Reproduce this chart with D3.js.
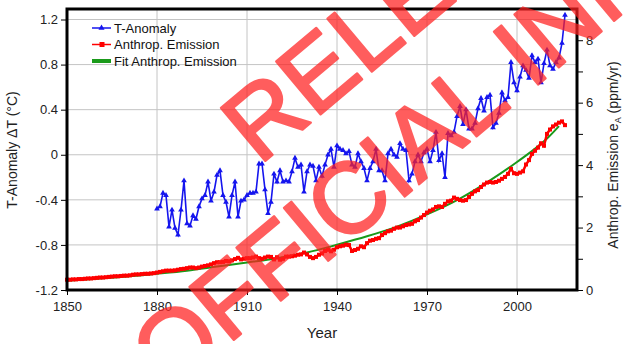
<!DOCTYPE html>
<html>
<head>
<meta charset="utf-8">
<script src="https://cdn.jsdelivr.net/npm/d3@7"></script>
<style>
  body { margin: 0; background: #fff; }
  text { font-family: "Liberation Sans", Arial, sans-serif; }
</style>
</head>
<body>
<div id="chart"></div>
<script>
// temperature anomaly (left axis), 1880-2016
const tempYears = d3.range(1880, 2017)
const tempValues = [
  -0.48, -0.46, -0.34, -0.36, -0.64, -0.49, -0.65, -0.71, -0.49, -0.23,
  -0.61, -0.63, -0.54, -0.57, -0.46, -0.39, -0.36, -0.24, -0.41, -0.33,
  -0.18, -0.14, -0.36, -0.42, -0.55, -0.36, -0.24, -0.55, -0.41, -0.40,
  -0.36, -0.34, -0.34, -0.33, -0.08, -0.08, -0.31, -0.52, -0.42, -0.17,
  -0.24, -0.14, -0.24, -0.23, -0.24, -0.15, -0.03, -0.11, -0.09, -0.33,
  -0.15, -0.09, -0.10, -0.23, -0.11, -0.19, -0.09, 0.00, 0.05, -0.11,
  0.08, 0.05, 0.04, 0.01, 0.03, -0.09, -0.11, 0.01, -0.06, -0.12,
  -0.23, -0.12, -0.06, 0.05, -0.14, -0.14, -0.23, 0.01, 0.05, 0.00,
  -0.02, 0.10, 0.05, 0.04, -0.23, -0.17, -0.06, 0.00, -0.06, 0.02,
  0.05, -0.06, 0.04, 0.20, -0.05, 0.01, -0.20, 0.19, 0.17, 0.20,
  0.34, 0.43, 0.27, 0.40, 0.23, 0.23, 0.28, 0.41, 0.50, 0.39,
  0.51, 0.53, 0.24, 0.28, 0.37, 0.55, 0.48, 0.51, 0.82, 0.64,
  0.57, 0.69, 0.79, 0.75, 0.68, 0.88, 0.82, 0.85, 0.64, 0.81,
  0.93, 0.79, 0.76, 0.82, 0.86, 0.99, 1.24
]

// anthropogenic emission (right axis, ppm/yr), 1850-2016
const emisYears = d3.range(1850, 2017)
const emisValues = [
  0.33, 0.33, 0.34, 0.34, 0.35, 0.35, 0.36, 0.37, 0.37, 0.38,
  0.39, 0.40, 0.40, 0.41, 0.42, 0.43, 0.44, 0.44, 0.45, 0.46,
  0.46, 0.47, 0.49, 0.50, 0.50, 0.51, 0.52, 0.52, 0.53, 0.54,
  0.56, 0.58, 0.60, 0.62, 0.62, 0.62, 0.63, 0.65, 0.67, 0.68,
  0.70, 0.72, 0.72, 0.70, 0.72, 0.75, 0.77, 0.79, 0.82, 0.86,
  0.89, 0.89, 0.90, 0.93, 0.92, 0.95, 0.99, 1.03, 0.98, 1.00,
  1.02, 1.02, 1.04, 1.07, 1.02, 1.00, 1.04, 1.07, 1.06, 0.98,
  1.05, 0.97, 1.00, 1.07, 1.07, 1.08, 1.10, 1.13, 1.14, 1.20,
  1.14, 1.06, 1.02, 1.06, 1.13, 1.17, 1.25, 1.29, 1.24, 1.29,
  1.37, 1.40, 1.42, 1.45, 1.44, 1.25, 1.28, 1.32, 1.40, 1.37,
  1.50, 1.58, 1.60, 1.64, 1.66, 1.76, 1.82, 1.88, 1.90, 1.96,
  2.00, 2.00, 2.04, 2.08, 2.10, 2.12, 2.20, 2.24, 2.32, 2.40,
  2.48, 2.54, 2.58, 2.66, 2.68, 2.66, 2.76, 2.84, 2.86, 2.96,
  2.92, 2.88, 2.86, 2.88, 2.98, 3.08, 3.16, 3.20, 3.30, 3.38,
  3.44, 3.46, 3.44, 3.46, 3.50, 3.56, 3.62, 3.72, 3.88, 3.74,
  3.72, 3.76, 3.80, 4.02, 4.16, 4.36, 4.46, 4.56, 4.70, 4.62,
  5.00, 5.14, 5.24, 5.30, 5.36, 5.40, 5.28
]

// smooth fit of the emission (right axis)
const fitYears = [1850, 1860, 1870, 1880, 1890, 1900, 1910, 1920, 1930, 1940, 1950, 1960, 1970, 1980, 1990, 2000, 2010, 2014]
const fitValues = [0.30, 0.36, 0.43, 0.52, 0.62, 0.75, 0.88, 1.02, 1.20, 1.45, 1.72, 2.03, 2.42, 2.88, 3.45, 4.10, 4.85, 5.25]

const xTicks = [1850, 1880, 1910, 1940, 1970, 2000]
const leftTicks = [-1.2, -0.8, -0.4, 0, 0.4, 0.8, 1.2]
const rightTicks = [0, 1, 2, 3, 4, 5, 6, 7, 8]

const legendLabels = ["T-Anomaly", "Anthrop. Emission", "Fit Anthrop. Emission"]

const W = 626, H = 344
const plot = { left: 67, right: 577, top: 9, bottom: 290 }

const svg = d3.select("#chart").append("svg")
    .attr("width", W)
    .attr("height", H)
    .style("display", "block")

svg.append("rect").attr("width", W).attr("height", H).attr("fill", "#fff")

let x = d3.scaleLinear().domain([1850, 2020]).range([plot.left, plot.right])
let yL = d3.scaleLinear().domain([-1.2, 1.2]).range([290, 19.5])
let yR = d3.scaleLinear().domain([0, 9]).range([plot.bottom, plot.top])

// grid
svg.append("g").selectAll("line").data(xTicks.slice(1)).join("line")
    .attr("x1", d => x(d)).attr("x2", d => x(d))
    .attr("y1", plot.top).attr("y2", plot.bottom)
    .attr("stroke", "#c4c4c4").attr("stroke-width", 1)
svg.append("g").selectAll("line").data(leftTicks.slice(1)).join("line")
    .attr("x1", plot.left).attr("x2", plot.right)
    .attr("y1", d => yL(d)).attr("y2", d => yL(d))
    .attr("stroke", "#c4c4c4").attr("stroke-width", 1)

// axes
let xAxis = d3.axisBottom(x).tickValues(xTicks).tickSize(5).tickPadding(7).tickFormat(d3.format("d"))
let yAxisL = d3.axisLeft(yL).tickValues(leftTicks).tickSize(6).tickPadding(3)
    .tickFormat(d => d === 0 ? "0" : d.toFixed(1))
let yAxisR = d3.axisRight(yR).tickValues(rightTicks).tickSize(6).tickPadding(3)
    .tickFormat(d => d % 2 === 0 ? d : "")

const gx = svg.append("g").attr("transform", `translate(0,${plot.bottom})`).call(xAxis)
const gl = svg.append("g").attr("transform", `translate(${plot.left},0)`).call(yAxisL)
const gr = svg.append("g").attr("transform", `translate(${plot.right},0)`).call(yAxisR)
for (const g of [gx, gl, gr]) {
    g.select(".domain").remove()
    g.selectAll("text").attr("font-size", 13).attr("fill", "#222")
        .style("font-family", "Liberation Sans, Arial, sans-serif")
    g.selectAll("line").attr("stroke", "#000")
}

// emission fit
svg.append("path")
    .datum(fitYears.map((d, i) => [d, fitValues[i]]))
    .attr("fill", "none").attr("stroke", "#1a9a1a").attr("stroke-width", 2)
    .attr("d", d3.line().x(d => x(d[0])).y(d => yR(d[1])).curve(d3.curveMonotoneX))

// emission
const emis = emisYears.map((d, i) => [d, emisValues[i]])
svg.append("path").datum(emis)
    .attr("fill", "none").attr("stroke", "#ff0000").attr("stroke-width", 2.5)
    .attr("d", d3.line().x(d => x(d[0])).y(d => yR(d[1])))
svg.append("g").selectAll("rect").data(emis).join("rect")
    .attr("x", d => x(d[0]) - 2).attr("y", d => yR(d[1]) - 2)
    .attr("width", 4).attr("height", 4).attr("fill", "#ff0000")

// temperature
const temp = tempYears.map((d, i) => [d, tempValues[i]])
svg.append("path").datum(temp)
    .attr("fill", "none").attr("stroke", "#1515ee").attr("stroke-width", 1.6)
    .attr("d", d3.line().x(d => x(d[0])).y(d => yL(d[1])))
svg.append("g").selectAll("path").data(temp).join("path")
    .attr("transform", d => `translate(${x(d[0])},${yL(d[1])})`)
    .attr("d", d3.symbol(d3.symbolTriangle, 14))
    .attr("fill", "#1515ee")

// frame
svg.append("rect")
    .attr("x", plot.left).attr("y", plot.top)
    .attr("width", plot.right - plot.left).attr("height", plot.bottom - plot.top)
    .attr("fill", "none").attr("stroke", "#000").attr("stroke-width", 3)

// legend
const legendColors = ["#1515ee", "#ff0000", "#1a9a1a"]
const lg = svg.append("g")
legendLabels.forEach((name, i) => {
    const yy = 28 + i * 16.5
    lg.append("line").attr("x1", 92).attr("x2", 111).attr("y1", yy).attr("y2", yy)
        .attr("stroke", legendColors[i]).attr("stroke-width", i === 2 ? 4 : 1.5)
    if (i === 0) lg.append("path").attr("transform", `translate(101.5,${yy})`)
        .attr("d", d3.symbol(d3.symbolTriangle, 16)).attr("fill", legendColors[i])
    if (i === 1) lg.append("rect").attr("x", 99.5).attr("y", yy - 2.5).attr("width", 5).attr("height", 5)
        .attr("fill", legendColors[i])
    lg.append("text").attr("x", 114).attr("y", yy + 4.5).attr("font-size", 13).attr("fill", "#111").text(name)
})

// axis titles
svg.append("text")
    .attr("transform", "translate(17,150) rotate(-90)")
    .attr("text-anchor", "middle").attr("font-size", 14).attr("fill", "#222")
    .text("T-Anomaly ΔT (°C)")
const rt = svg.append("text")
    .attr("transform", "translate(618,155) rotate(-90)")
    .attr("text-anchor", "middle").attr("font-size", 14).attr("fill", "#222")
rt.append("tspan").text("Anthrop. Emission e")
rt.append("tspan").attr("font-size", 9).attr("dy", 3).text("A")
rt.append("tspan").attr("dy", -3).text(" (ppm/yr)")
svg.append("text")
    .attr("x", 322).attr("y", 338)
    .attr("text-anchor", "middle").attr("font-size", 15).attr("fill", "#222")
    .text("Year")

// watermark
const wm = svg.append("g").attr("fill", "#ff2020").attr("opacity", 0.72)
    .attr("stroke", "#ff2020").attr("stroke-width", 2.5).attr("stroke-linejoin", "round")
    .style("font-family", "Liberation Sans, Arial, sans-serif")
    .attr("font-size", 100)
wm.append("text").attr("transform", "translate(259,166) rotate(-40)").text("RELEASED UNDER THE")
wm.append("text").attr("transform", "translate(168,395) rotate(-40)").text("OFFICIAL INFORMATION ACT")
</script>
</body>
</html>
